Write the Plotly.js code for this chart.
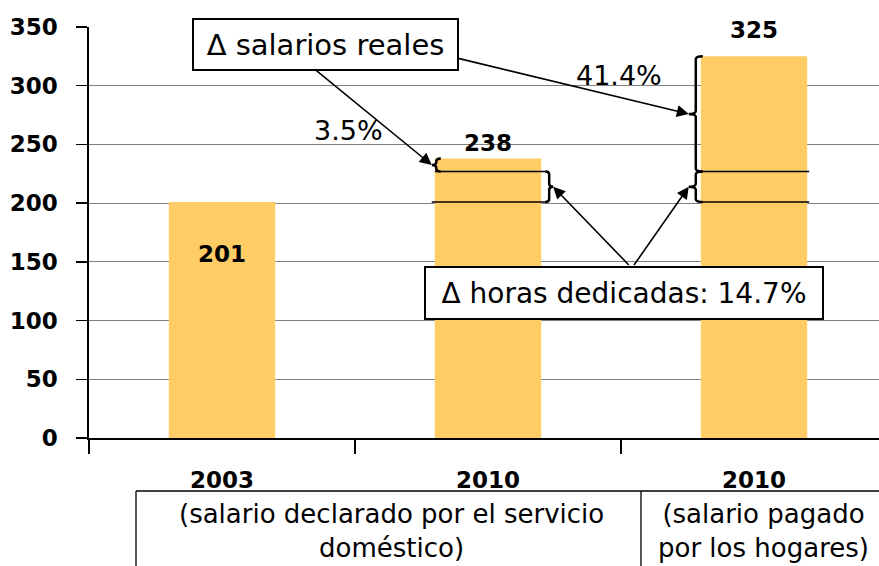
<!DOCTYPE html>
<html>
<head>
<meta charset="utf-8">
<script src="https://cdn.plot.ly/plotly-3.0.1.min.js"></script>
<style>html,body{margin:0;padding:0;background:#fff;}#chart{width:879px;height:566px;}</style>
</head>
<body>
<div id="chart"></div>
<script>
// ---- data ----
const categories = ['2003', '2010', '2010'];
const values = [201, 238, 325];
const catNotes = ['(salario declarado por el servicio<br>doméstico)', '(salario pagado<br>por los hogares)'];
const hoursLevel = 227;            // level marked on the 2010 bars (hours-adjusted 2003 salary)
const salaryChanges = ['3.5%', '41.4%'];
const hoursChange = '14.7%';
const yTicks = [0, 50, 100, 150, 200, 250, 300, 350];

// ---- helpers ----
const xIdx = categories.map((_, i) => i);
const BAR_W = 0.4;
const PX = 1 / 266;          // one pixel in x units (approx)
const PY = 1 / 1.1743;       // one pixel in y units (approx)
const comic = "'Comic Sans MS', 'DejaVu Sans', sans-serif";
const boldNum = "'DejaVu Sans', sans-serif";

// vertical curly brace, ends at xe, point at xp
function brace(xe, xp, y0, y1) {
  const xm = (xe + xp) / 2;
  const ym = (y0 + y1) / 2;
  const q = Math.min(3 * PY, (y1 - y0) / 4);
  return `M ${xe},${y0} Q ${xm},${y0} ${xm},${y0 + q} L ${xm},${ym - q} Q ${xm},${ym} ${xp},${ym} ` +
         `Q ${xm},${ym} ${xm},${ym + q} L ${xm},${y1 - q} Q ${xm},${y1} ${xe},${y1}`;
}

const bar2L = xIdx[1] - BAR_W / 2, bar2R = xIdx[1] + BAR_W / 2;
const bar3L = xIdx[2] - BAR_W / 2, bar3R = xIdx[2] + BAR_W / 2;

// brace geometry
const bA = { xe: bar2L + 6 * PX, xp: bar2L - 3 * PX, y0: hoursLevel, y1: values[1] };
const bB = { xe: bar2R + 4 * PX, xp: bar2R + 12 * PX, y0: values[0], y1: hoursLevel };
const bC = { xe: bar3L + 2 * PX, xp: bar3L - 12 * PX, y0: hoursLevel, y1: values[2] };
const bD = { xe: bar3L + 2 * PX, xp: bar3L - 12 * PX, y0: values[0], y1: hoursLevel };

const braceLine = { color: '#000', width: 2.5 };
const thin = { color: '#000', width: 1.6 };

const shapes = [
  // level lines on the 2010 bars
  { type: 'line', xref: 'x', yref: 'y', x0: bar2L, x1: bB.xe, y0: hoursLevel, y1: hoursLevel, line: thin },
  { type: 'line', xref: 'x', yref: 'y', x0: bar2L - 3 * PX, x1: bB.xe, y0: values[0], y1: values[0], line: thin },
  { type: 'line', xref: 'x', yref: 'y', x0: bar3L - 2 * PX, x1: bar3R + 2 * PX, y0: hoursLevel, y1: hoursLevel, line: thin },
  { type: 'line', xref: 'x', yref: 'y', x0: bar3L - 2 * PX, x1: bar3R + 2 * PX, y0: values[0], y1: values[0], line: thin },
  // braces
  ...[bA, bB, bC, bD].map(b => ({ type: 'path', xref: 'x', yref: 'y', path: brace(b.xe, b.xp, b.y0, b.y1), line: braceLine })),
  // bottom category table
  { type: 'line', xref: 'paper', yref: 'paper', x0: 0.0595, x1: 1.0, y0: -0.129, y1: -0.129, line: { color: '#000', width: 1.3 } },
  { type: 'line', xref: 'paper', yref: 'paper', x0: 0.0595, x1: 0.0595, y0: -0.129, y1: -0.33, line: { color: '#000', width: 1.3 } },
  { type: 'line', xref: 'paper', yref: 'paper', x0: 0.6987, x1: 0.6987, y0: -0.129, y1: -0.33, line: { color: '#000', width: 1.3 } },
];

const arrow = (x, y, ax, ay) => ({
  x, y, ax, ay, xref: 'x', yref: 'y', axref: 'x', ayref: 'y', text: '',
  showarrow: true, arrowhead: 2, arrowsize: 1.5, arrowwidth: 1.6, arrowcolor: '#000', standoff: 0
});

const txt = (x, y, text, font, extra) => Object.assign({
  xref: 'paper', yref: 'paper', x, y, text, showarrow: false, xanchor: 'center', yanchor: 'middle', font
}, extra || {});

const comicFont = (size) => ({ family: comic, size, color: '#000' });
const numFont = { family: boldNum, size: 23, color: '#000', weight: 'bold' };

const annotations = [
  // arrows (drawn first, boxes on top)
  arrow(bA.xp, (bA.y0 + bA.y1) / 2, 0.338, 316),
  arrow(bC.xp, (bC.y0 + bC.y1) / 2, 0.883, 323.6),
  arrow(bB.xp, (bB.y0 + bB.y1) / 2, 1.535, 146),
  arrow(bD.xp, (bD.y0 + bD.y1) / 2, 1.545, 146),
  // value labels
  { x: xIdx[0], y: values[0], yshift: -52, text: String(values[0]), showarrow: false, xanchor: 'center', yanchor: 'middle', font: numFont },
  { x: xIdx[1], y: values[1], yshift: 16, text: String(values[1]), showarrow: false, xanchor: 'center', yanchor: 'middle', font: numFont },
  { x: xIdx[2], y: values[2], yshift: 26, text: String(values[2]), showarrow: false, xanchor: 'center', yanchor: 'middle', font: numFont },
  // percent labels
  txt(0.3291, 0.747, salaryChanges[0], comicFont(27)),
  txt(0.671, 0.8832, salaryChanges[1], comicFont(27)),
  // boxed labels
  txt(0.2993, 0.9575, 'Δ salarios reales', comicFont(29),
    { width: 263, height: 49, bgcolor: '#fff', bordercolor: '#000', borderwidth: 2, borderpad: 0 }),
  txt(0.6772, 0.3528, 'Δ horas dedicadas: ' + hoursChange, comicFont(28),
    { width: 396, height: 50, bgcolor: '#fff', bordercolor: '#000', borderwidth: 2, borderpad: 0 }),
  // table notes
  txt(0.383, -0.227, catNotes[0], comicFont(26)),
  txt(0.854, -0.227, catNotes[1], comicFont(26)),
];

const data = [{
  type: 'bar',
  x: xIdx,
  y: values,
  width: BAR_W,
  marker: { color: '#FFCC66', line: { width: 0 } },
  hoverinfo: 'skip'
}];

const layout = {
  width: 879, height: 566,
  margin: { l: 89, r: 0, t: 27, b: 128, pad: 0 },
  paper_bgcolor: '#fff', plot_bgcolor: '#fff',
  showlegend: false,
  bargap: 0.6,
  xaxis: {
    range: [-0.5, 2.47],
    tickmode: 'array', tickvals: xIdx, ticktext: categories,
    ticks: '', ticklabelstandoff: 21,
    tickfont: { family: boldNum, size: 23, color: '#000', weight: 'bold' },
    showgrid: false, zeroline: false,
    showline: true, linecolor: '#000', linewidth: 1.6,
    minor: { tickmode: 'array', tickvals: [-0.5, 0.5, 1.5], ticks: 'outside', ticklen: 14, tickcolor: '#000', tickwidth: 1.3, showgrid: false },
    fixedrange: true
  },
  yaxis: {
    range: [0, 350],
    tickmode: 'array', tickvals: yTicks,
    ticks: 'outside', ticklen: 11, tickcolor: '#000', tickwidth: 1.3,
    ticklabelstandoff: 14,
    tickfont: { family: boldNum, size: 23, color: '#000', weight: 'bold' },
    showgrid: true, gridcolor: '#808080', gridwidth: 1.2,
    zeroline: false,
    showline: true, linecolor: '#000', linewidth: 1.6,
    fixedrange: true
  },
  shapes, annotations
};

Plotly.newPlot('chart', data, layout, { staticPlot: true, displayModeBar: false });
</script>
</body>
</html>
